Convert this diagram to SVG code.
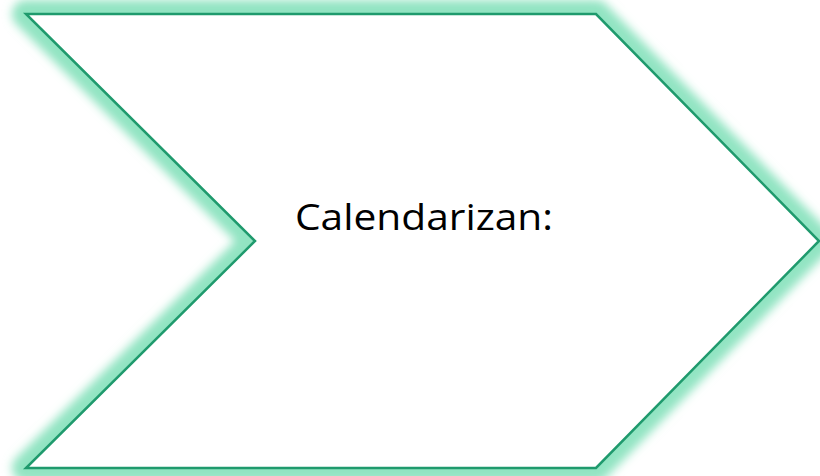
<svg xmlns="http://www.w3.org/2000/svg" width="820" height="476" viewBox="0 0 820 476">
  <defs>
    <filter id="glow" x="-10%" y="-10%" width="120%" height="120%">
      <feGaussianBlur stdDeviation="5"/>
    </filter>
  </defs>
  <style>
    .glow { fill: none; stroke: #92e4c2; stroke-width: 28; stroke-linejoin: round; filter: url(#glow); }
    .shape { fill: #ffffff; stroke: #1f9a6d; stroke-width: 2.5; stroke-linejoin: miter; }
    .label { font-family: "Open Sans", "Liberation Sans", Arial, sans-serif; font-size: 37px; fill: #000000; }
  </style>
  <rect width="820" height="476" fill="#ffffff"/>
  <g id="chevron">
    <path class="glow" d="M26,14 L596,14 L819,241 L596,468 L26,468 L255,241 Z"/>
    <path class="shape" d="M26,14 L596,14 L819,241 L596,468 L26,468 L255,241 Z"/>
    <text class="label" x="295" y="230" textLength="258" lengthAdjust="spacingAndGlyphs">Calendarizan:</text>
  </g>
  <g id="connectors"/>
</svg>
